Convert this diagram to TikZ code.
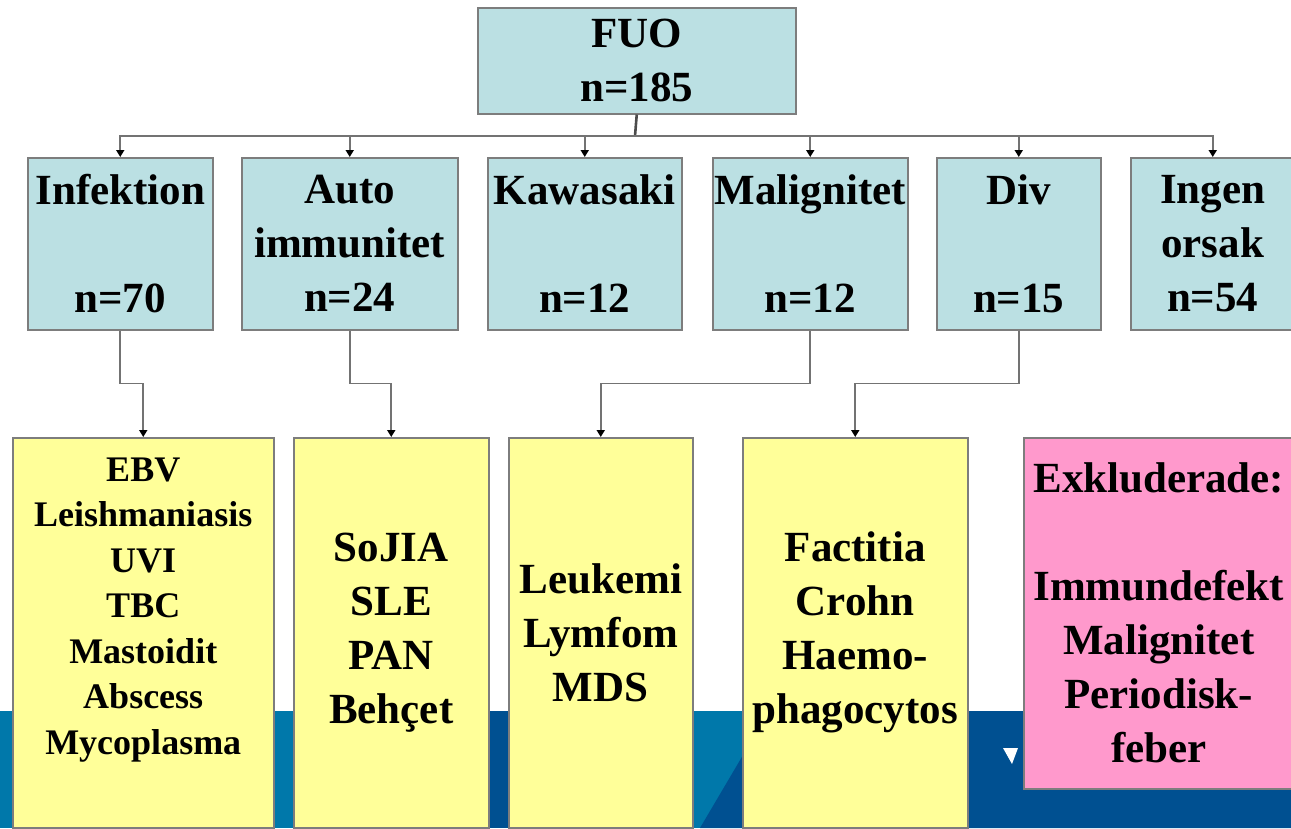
\documentclass[tikz,border=0pt]{standalone}
\usepackage{fontspec}
\setmainfont{Liberation Serif}
\usetikzlibrary{arrows.meta,calc}
\definecolor{cyanbox}{RGB}{187,224,227}
\definecolor{yellowbox}{RGB}{255,255,153}
\definecolor{pinkbox}{RGB}{255,153,204}
\definecolor{boxline}{RGB}{125,125,125}
\definecolor{lineclr}{RGB}{115,115,115}
\definecolor{midblue}{RGB}{0,120,170}
\definecolor{darkblue}{RGB}{0,80,145}
\begin{document}
\begin{tikzpicture}[x=1pt,y=-1pt,
  box/.style={draw=boxline, line width=1.5pt, inner sep=0pt, align=center,
    font=\fontsize{43}{54}\selectfont\bfseries, anchor=north west},
  cbox/.style={box, fill=cyanbox},
  ybox/.style={box, fill=yellowbox},
  pbox/.style={box, fill=pinkbox},
  conn/.style={draw=lineclr, line width=1.8pt},
  trunk/.style={draw=black!70, line width=2.6pt},
  arr/.style={conn, -{Triangle[width=8pt,length=7pt,color=black]}},
]
\useasboundingbox (0,0) rectangle (1291,828);
% background band
\fill[midblue] (0,711) rectangle (1291,828);
\fill[darkblue] (400,711) rectangle (600,828);
\fill[darkblue] (700,828) -- (769,711) -- (1291,711) -- (1291,828) -- cycle;
\fill[white] (1003,748) -- (1018,748) -- (1012,764) -- cycle;

% top
\node[cbox, minimum width=318pt, minimum height=106pt] (fuo) at (477,7) {FUO\\n=185};

% level 2
\node[cbox, minimum width=185pt, minimum height=172pt] (inf) at (27,157) {Infektion\\\mbox{}\\n=70};
\node[cbox, minimum width=216pt, minimum height=172pt] (aut) at (241,157) {Auto\\immunitet\\n=24};
\node[cbox, minimum width=194pt, minimum height=172pt] (kaw) at (487,157) {Kawasaki\\\mbox{}\\n=12};
\node[cbox, minimum width=195pt, minimum height=172pt] (mal) at (712,157) {Malignitet\\\mbox{}\\n=12};
\node[cbox, minimum width=164pt, minimum height=172pt] (div) at (936,157) {Div\\\mbox{}\\n=15};
\node[cbox, minimum width=164pt, minimum height=172pt] (ing) at (1130,157) {Ingen\\orsak\\n=54};

% level 3
\node[ybox, minimum width=261pt, minimum height=390pt] (y1) at (12,437)
  {\raisebox{18pt}[0pt][0pt]{\fontsize{36}{45.5}\selectfont\begin{tabular}{@{}c@{}}EBV\\Leishmaniasis\\UVI\\TBC\\Mastoidit\\Abscess\\Mycoplasma\end{tabular}}};
\node[ybox, minimum width=195pt, minimum height=390pt] (y2) at (293,437) {SoJIA\\SLE\\PAN\\Behçet};
\node[ybox, minimum width=184pt, minimum height=390pt] (y3) at (508,437) {Leukemi\\Lymfom\\MDS};
\node[ybox, minimum width=225pt, minimum height=390pt] (y4) at (742,437) {Factitia\\Crohn\\Haemo-\\phagocytos};
\node[pbox, minimum width=270pt, minimum height=351pt] (exc) at (1023,437) {Exkluderade:\\\mbox{}\\Immundefekt\\Malignitet\\Periodisk-\\feber};

% connectors top
\coordinate (bus) at (635,136);
\draw[trunk] (fuo.south) -- (bus);
\foreach \n in {inf,aut,kaw,mal,div,ing}
  \draw[arr] (bus) -| (\n.north);

% connectors lower
\draw[arr] (inf.south) -- ++(0,53) -| (y1.north);
\draw[arr] (aut.south) -- ++(0,53) -| (y2.north);
\draw[arr] (mal.south) -- ++(0,53) -| (y3.north);
\draw[arr] (div.south) -- ++(0,53) -| (y4.north);
\end{tikzpicture}
\end{document}
